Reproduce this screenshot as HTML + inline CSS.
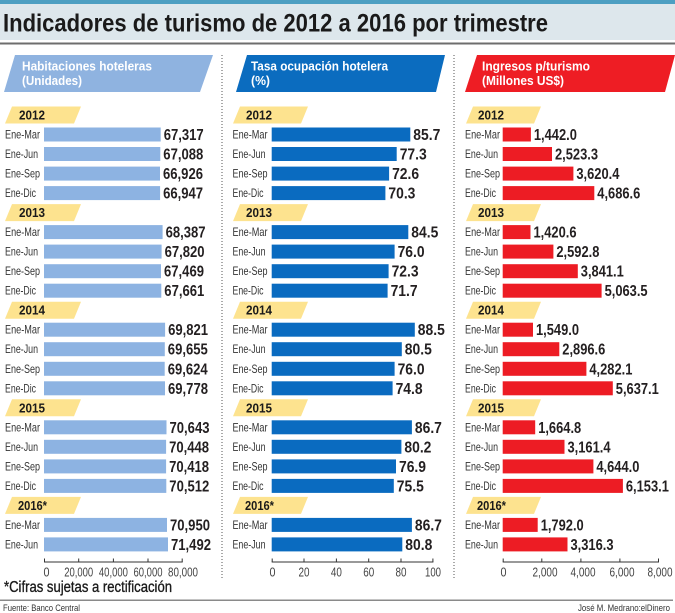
<!DOCTYPE html>
<html><head><meta charset="utf-8"><style>
html,body{margin:0;padding:0;background:#fff;}
svg{display:block;}
.t{font-family:"Liberation Sans",sans-serif;font-weight:bold;font-size:25px;fill:#1a1a1a;}
.h{font-family:"Liberation Sans",sans-serif;font-weight:bold;font-size:13px;fill:#fff;}
.y{font-family:"Liberation Sans",sans-serif;font-weight:bold;font-size:12.5px;fill:#1a1a1a;}
.l{font-family:"Liberation Sans",sans-serif;font-size:12px;fill:#333;}
.v{font-family:"Liberation Sans",sans-serif;font-weight:bold;font-size:15.5px;fill:#231f20;}
.a{font-family:"Liberation Sans",sans-serif;font-size:12.5px;fill:#444;text-anchor:middle;}
.f{font-family:"Liberation Sans",sans-serif;font-size:9.5px;fill:#333;}
.b1{fill:#8db3e2;}.b2{fill:#0a6bc0;}.b3{fill:#ed1c24;}
.tg{fill:#fde38f;}
</style></head><body>
<svg width="675" height="613" viewBox="0 0 675 613" xmlns="http://www.w3.org/2000/svg">
<rect x="0" y="0" width="675" height="4" fill="#4d9fc2"/>
<rect x="0" y="4" width="675" height="36" fill="#dde7ec"/>
<rect x="0" y="42.5" width="675" height="2" fill="#6d6d6d"/>
<text class="t" x="3" y="31.5" textLength="545" lengthAdjust="spacingAndGlyphs">Indicadores de turismo de 2012 a 2016 por trimestre</text>

<polygon points="15,55 213,55 200,92 4,92" fill="#8fb3e0"/>
<polygon points="247,55 445,55 436,92 236,92" fill="#0b6cbf"/>
<polygon points="477,55 675,55 665,92 465,92" fill="#ee1d24"/>
<text class="h" x="22" y="70.7" textLength="130" lengthAdjust="spacingAndGlyphs">Habitaciones hoteleras</text>
<text class="h" x="22" y="85" textLength="60" lengthAdjust="spacingAndGlyphs">(Unidades)</text>
<text class="h" x="251" y="70.7" textLength="137" lengthAdjust="spacingAndGlyphs">Tasa ocupación hotelera</text>
<text class="h" x="251" y="85" textLength="19" lengthAdjust="spacingAndGlyphs">(%)</text>
<text class="h" x="482" y="70.7" textLength="108" lengthAdjust="spacingAndGlyphs">Ingresos p/turismo</text>
<text class="h" x="482" y="85" textLength="82" lengthAdjust="spacingAndGlyphs">(Millones US$)</text>

<line x1="222" y1="55" x2="222" y2="578" stroke="#555" stroke-width="1" stroke-dasharray="1,2"/>
<line x1="454" y1="55" x2="454" y2="578" stroke="#555" stroke-width="1" stroke-dasharray="1,2"/>

<!-- year tags -->
<g transform="translate(0,115)">
<polygon class="tg" points="12,-8.5 81,-8.5 74,8.5 5,8.5"/><text class="y" x="19" y="4.5" textLength="26" lengthAdjust="spacingAndGlyphs">2012</text>
<polygon class="tg" points="240,-8.5 308,-8.5 301,8.5 233,8.5"/><text class="y" x="246" y="4.5" textLength="26" lengthAdjust="spacingAndGlyphs">2012</text>
<polygon class="tg" points="473,-8.5 541,-8.5 534,8.5 466,8.5"/><text class="y" x="478" y="4.5" textLength="26" lengthAdjust="spacingAndGlyphs">2012</text>
</g>
<g transform="translate(0,212.6)">
<polygon class="tg" points="12,-8.5 81,-8.5 74,8.5 5,8.5"/><text class="y" x="19" y="4.5" textLength="26" lengthAdjust="spacingAndGlyphs">2013</text>
<polygon class="tg" points="240,-8.5 308,-8.5 301,8.5 233,8.5"/><text class="y" x="246" y="4.5" textLength="26" lengthAdjust="spacingAndGlyphs">2013</text>
<polygon class="tg" points="473,-8.5 541,-8.5 534,8.5 466,8.5"/><text class="y" x="478" y="4.5" textLength="26" lengthAdjust="spacingAndGlyphs">2013</text>
</g>
<g transform="translate(0,310.2)">
<polygon class="tg" points="12,-8.5 81,-8.5 74,8.5 5,8.5"/><text class="y" x="19" y="4.5" textLength="26" lengthAdjust="spacingAndGlyphs">2014</text>
<polygon class="tg" points="240,-8.5 308,-8.5 301,8.5 233,8.5"/><text class="y" x="246" y="4.5" textLength="26" lengthAdjust="spacingAndGlyphs">2014</text>
<polygon class="tg" points="473,-8.5 541,-8.5 534,8.5 466,8.5"/><text class="y" x="478" y="4.5" textLength="26" lengthAdjust="spacingAndGlyphs">2014</text>
</g>
<g transform="translate(0,407.8)">
<polygon class="tg" points="12,-8.5 81,-8.5 74,8.5 5,8.5"/><text class="y" x="19" y="4.5" textLength="26" lengthAdjust="spacingAndGlyphs">2015</text>
<polygon class="tg" points="240,-8.5 308,-8.5 301,8.5 233,8.5"/><text class="y" x="246" y="4.5" textLength="26" lengthAdjust="spacingAndGlyphs">2015</text>
<polygon class="tg" points="473,-8.5 541,-8.5 534,8.5 466,8.5"/><text class="y" x="478" y="4.5" textLength="26" lengthAdjust="spacingAndGlyphs">2015</text>
</g>
<g transform="translate(0,505.4)">
<polygon class="tg" points="12,-8.5 81,-8.5 74,8.5 5,8.5"/><text class="y" x="18" y="4.5" textLength="29" lengthAdjust="spacingAndGlyphs">2016*</text>
<polygon class="tg" points="240,-8.5 308,-8.5 301,8.5 233,8.5"/><text class="y" x="245" y="4.5" textLength="29" lengthAdjust="spacingAndGlyphs">2016*</text>
<polygon class="tg" points="473,-8.5 541,-8.5 534,8.5 466,8.5"/><text class="y" x="477" y="4.5" textLength="29" lengthAdjust="spacingAndGlyphs">2016*</text>
</g>

<!-- 2012 -->
<g transform="translate(0,134.5)">
<text class="l" x="5" y="4" textLength="35" lengthAdjust="spacingAndGlyphs">Ene-Mar</text><rect class="b1" x="44" y="-7" width="116.7" height="14"/><text class="v" x="163.7" y="5.5" textLength="40" lengthAdjust="spacingAndGlyphs">67,317</text>
<text class="l" x="232.5" y="4" textLength="35" lengthAdjust="spacingAndGlyphs">Ene-Mar</text><rect class="b2" x="271.7" y="-7" width="138.6" height="14"/><text class="v" x="413.3" y="5.5" textLength="27" lengthAdjust="spacingAndGlyphs">85.7</text>
<text class="l" x="465" y="4" textLength="35" lengthAdjust="spacingAndGlyphs">Ene-Mar</text><rect class="b3" x="502.7" y="-7" width="28.2" height="14"/><text class="v" x="533.9" y="5.5" textLength="43" lengthAdjust="spacingAndGlyphs">1,442.0</text>
</g>
<g transform="translate(0,154)">
<text class="l" x="5" y="4" textLength="33" lengthAdjust="spacingAndGlyphs">Ene-Jun</text><rect class="b1" x="44" y="-7" width="116.3" height="14"/><text class="v" x="163.3" y="5.5" textLength="40" lengthAdjust="spacingAndGlyphs">67,088</text>
<text class="l" x="232.5" y="4" textLength="33" lengthAdjust="spacingAndGlyphs">Ene-Jun</text><rect class="b2" x="271.7" y="-7" width="125" height="14"/><text class="v" x="399.7" y="5.5" textLength="27" lengthAdjust="spacingAndGlyphs">77.3</text>
<text class="l" x="465" y="4" textLength="33" lengthAdjust="spacingAndGlyphs">Ene-Jun</text><rect class="b3" x="502.7" y="-7" width="49.3" height="14"/><text class="v" x="555" y="5.5" textLength="43" lengthAdjust="spacingAndGlyphs">2,523.3</text>
</g>
<g transform="translate(0,173.6)">
<text class="l" x="5" y="4" textLength="35" lengthAdjust="spacingAndGlyphs">Ene-Sep</text><rect class="b1" x="44" y="-7" width="116" height="14"/><text class="v" x="163" y="5.5" textLength="40" lengthAdjust="spacingAndGlyphs">66,926</text>
<text class="l" x="232.5" y="4" textLength="35" lengthAdjust="spacingAndGlyphs">Ene-Sep</text><rect class="b2" x="271.7" y="-7" width="117.4" height="14"/><text class="v" x="392.1" y="5.5" textLength="27" lengthAdjust="spacingAndGlyphs">72.6</text>
<text class="l" x="465" y="4" textLength="35" lengthAdjust="spacingAndGlyphs">Ene-Sep</text><rect class="b3" x="502.7" y="-7" width="70.7" height="14"/><text class="v" x="576.4" y="5.5" textLength="43" lengthAdjust="spacingAndGlyphs">3,620.4</text>
</g>
<g transform="translate(0,193.1)">
<text class="l" x="5" y="4" textLength="31" lengthAdjust="spacingAndGlyphs">Ene-Dic</text><rect class="b1" x="44" y="-7" width="116.1" height="14"/><text class="v" x="163.1" y="5.5" textLength="40" lengthAdjust="spacingAndGlyphs">66,947</text>
<text class="l" x="232.5" y="4" textLength="31" lengthAdjust="spacingAndGlyphs">Ene-Dic</text><rect class="b2" x="271.7" y="-7" width="113.7" height="14"/><text class="v" x="388.4" y="5.5" textLength="27" lengthAdjust="spacingAndGlyphs">70.3</text>
<text class="l" x="465" y="4" textLength="31" lengthAdjust="spacingAndGlyphs">Ene-Dic</text><rect class="b3" x="502.7" y="-7" width="91.6" height="14"/><text class="v" x="597.3" y="5.5" textLength="43" lengthAdjust="spacingAndGlyphs">4,686.6</text>
</g>

<!-- 2013 -->
<g transform="translate(0,232.1)">
<text class="l" x="5" y="4" textLength="35" lengthAdjust="spacingAndGlyphs">Ene-Mar</text><rect class="b1" x="44" y="-7" width="118.6" height="14"/><text class="v" x="165.6" y="5.5" textLength="40" lengthAdjust="spacingAndGlyphs">68,387</text>
<text class="l" x="232.5" y="4" textLength="35" lengthAdjust="spacingAndGlyphs">Ene-Mar</text><rect class="b2" x="271.7" y="-7" width="136.6" height="14"/><text class="v" x="411.3" y="5.5" textLength="27" lengthAdjust="spacingAndGlyphs">84.5</text>
<text class="l" x="465" y="4" textLength="35" lengthAdjust="spacingAndGlyphs">Ene-Mar</text><rect class="b3" x="502.7" y="-7" width="27.8" height="14"/><text class="v" x="533.5" y="5.5" textLength="43" lengthAdjust="spacingAndGlyphs">1,420.6</text>
</g>
<g transform="translate(0,251.6)">
<text class="l" x="5" y="4" textLength="33" lengthAdjust="spacingAndGlyphs">Ene-Jun</text><rect class="b1" x="44" y="-7" width="117.6" height="14"/><text class="v" x="164.6" y="5.5" textLength="40" lengthAdjust="spacingAndGlyphs">67,820</text>
<text class="l" x="232.5" y="4" textLength="33" lengthAdjust="spacingAndGlyphs">Ene-Jun</text><rect class="b2" x="271.7" y="-7" width="122.9" height="14"/><text class="v" x="397.6" y="5.5" textLength="27" lengthAdjust="spacingAndGlyphs">76.0</text>
<text class="l" x="465" y="4" textLength="33" lengthAdjust="spacingAndGlyphs">Ene-Jun</text><rect class="b3" x="502.7" y="-7" width="50.7" height="14"/><text class="v" x="556.4" y="5.5" textLength="43" lengthAdjust="spacingAndGlyphs">2,592.8</text>
</g>
<g transform="translate(0,271.2)">
<text class="l" x="5" y="4" textLength="35" lengthAdjust="spacingAndGlyphs">Ene-Sep</text><rect class="b1" x="44" y="-7" width="117" height="14"/><text class="v" x="164" y="5.5" textLength="40" lengthAdjust="spacingAndGlyphs">67,469</text>
<text class="l" x="232.5" y="4" textLength="35" lengthAdjust="spacingAndGlyphs">Ene-Sep</text><rect class="b2" x="271.7" y="-7" width="116.9" height="14"/><text class="v" x="391.6" y="5.5" textLength="27" lengthAdjust="spacingAndGlyphs">72.3</text>
<text class="l" x="465" y="4" textLength="35" lengthAdjust="spacingAndGlyphs">Ene-Sep</text><rect class="b3" x="502.7" y="-7" width="75.1" height="14"/><text class="v" x="580.8" y="5.5" textLength="43" lengthAdjust="spacingAndGlyphs">3,841.1</text>
</g>
<g transform="translate(0,290.7)">
<text class="l" x="5" y="4" textLength="31" lengthAdjust="spacingAndGlyphs">Ene-Dic</text><rect class="b1" x="44" y="-7" width="117.3" height="14"/><text class="v" x="164.3" y="5.5" textLength="40" lengthAdjust="spacingAndGlyphs">67,661</text>
<text class="l" x="232.5" y="4" textLength="31" lengthAdjust="spacingAndGlyphs">Ene-Dic</text><rect class="b2" x="271.7" y="-7" width="115.9" height="14"/><text class="v" x="390.6" y="5.5" textLength="27" lengthAdjust="spacingAndGlyphs">71.7</text>
<text class="l" x="465" y="4" textLength="31" lengthAdjust="spacingAndGlyphs">Ene-Dic</text><rect class="b3" x="502.7" y="-7" width="98.9" height="14"/><text class="v" x="604.6" y="5.5" textLength="43" lengthAdjust="spacingAndGlyphs">5,063.5</text>
</g>

<!-- 2014 -->
<g transform="translate(0,329.7)">
<text class="l" x="5" y="4" textLength="35" lengthAdjust="spacingAndGlyphs">Ene-Mar</text><rect class="b1" x="44" y="-7" width="121.1" height="14"/><text class="v" x="168.1" y="5.5" textLength="40" lengthAdjust="spacingAndGlyphs">69,821</text>
<text class="l" x="232.5" y="4" textLength="35" lengthAdjust="spacingAndGlyphs">Ene-Mar</text><rect class="b2" x="271.7" y="-7" width="143.1" height="14"/><text class="v" x="417.8" y="5.5" textLength="27" lengthAdjust="spacingAndGlyphs">88.5</text>
<text class="l" x="465" y="4" textLength="35" lengthAdjust="spacingAndGlyphs">Ene-Mar</text><rect class="b3" x="502.7" y="-7" width="30.3" height="14"/><text class="v" x="536" y="5.5" textLength="43" lengthAdjust="spacingAndGlyphs">1,549.0</text>
</g>
<g transform="translate(0,349.2)">
<text class="l" x="5" y="4" textLength="33" lengthAdjust="spacingAndGlyphs">Ene-Jun</text><rect class="b1" x="44" y="-7" width="120.8" height="14"/><text class="v" x="167.8" y="5.5" textLength="40" lengthAdjust="spacingAndGlyphs">69,655</text>
<text class="l" x="232.5" y="4" textLength="33" lengthAdjust="spacingAndGlyphs">Ene-Jun</text><rect class="b2" x="271.7" y="-7" width="130.1" height="14"/><text class="v" x="404.8" y="5.5" textLength="27" lengthAdjust="spacingAndGlyphs">80.5</text>
<text class="l" x="465" y="4" textLength="33" lengthAdjust="spacingAndGlyphs">Ene-Jun</text><rect class="b3" x="502.7" y="-7" width="56.6" height="14"/><text class="v" x="562.3" y="5.5" textLength="43" lengthAdjust="spacingAndGlyphs">2,896.6</text>
</g>
<g transform="translate(0,368.8)">
<text class="l" x="5" y="4" textLength="35" lengthAdjust="spacingAndGlyphs">Ene-Sep</text><rect class="b1" x="44" y="-7" width="120.7" height="14"/><text class="v" x="167.7" y="5.5" textLength="40" lengthAdjust="spacingAndGlyphs">69,624</text>
<text class="l" x="232.5" y="4" textLength="35" lengthAdjust="spacingAndGlyphs">Ene-Sep</text><rect class="b2" x="271.7" y="-7" width="122.9" height="14"/><text class="v" x="397.6" y="5.5" textLength="27" lengthAdjust="spacingAndGlyphs">76.0</text>
<text class="l" x="465" y="4" textLength="35" lengthAdjust="spacingAndGlyphs">Ene-Sep</text><rect class="b3" x="502.7" y="-7" width="83.7" height="14"/><text class="v" x="589.4" y="5.5" textLength="43" lengthAdjust="spacingAndGlyphs">4,282.1</text>
</g>
<g transform="translate(0,388.3)">
<text class="l" x="5" y="4" textLength="31" lengthAdjust="spacingAndGlyphs">Ene-Dic</text><rect class="b1" x="44" y="-7" width="121" height="14"/><text class="v" x="168" y="5.5" textLength="40" lengthAdjust="spacingAndGlyphs">69,778</text>
<text class="l" x="232.5" y="4" textLength="31" lengthAdjust="spacingAndGlyphs">Ene-Dic</text><rect class="b2" x="271.7" y="-7" width="120.9" height="14"/><text class="v" x="395.6" y="5.5" textLength="27" lengthAdjust="spacingAndGlyphs">74.8</text>
<text class="l" x="465" y="4" textLength="31" lengthAdjust="spacingAndGlyphs">Ene-Dic</text><rect class="b3" x="502.7" y="-7" width="110.1" height="14"/><text class="v" x="615.8" y="5.5" textLength="43" lengthAdjust="spacingAndGlyphs">5,637.1</text>
</g>

<!-- 2015 -->
<g transform="translate(0,427.3)">
<text class="l" x="5" y="4" textLength="35" lengthAdjust="spacingAndGlyphs">Ene-Mar</text><rect class="b1" x="44" y="-7" width="122.5" height="14"/><text class="v" x="169.5" y="5.5" textLength="40" lengthAdjust="spacingAndGlyphs">70,643</text>
<text class="l" x="232.5" y="4" textLength="35" lengthAdjust="spacingAndGlyphs">Ene-Mar</text><rect class="b2" x="271.7" y="-7" width="140.2" height="14"/><text class="v" x="414.9" y="5.5" textLength="27" lengthAdjust="spacingAndGlyphs">86.7</text>
<text class="l" x="465" y="4" textLength="35" lengthAdjust="spacingAndGlyphs">Ene-Mar</text><rect class="b3" x="502.7" y="-7" width="32.5" height="14"/><text class="v" x="538.2" y="5.5" textLength="43" lengthAdjust="spacingAndGlyphs">1,664.8</text>
</g>
<g transform="translate(0,446.8)">
<text class="l" x="5" y="4" textLength="33" lengthAdjust="spacingAndGlyphs">Ene-Jun</text><rect class="b1" x="44" y="-7" width="122.1" height="14"/><text class="v" x="169.1" y="5.5" textLength="40" lengthAdjust="spacingAndGlyphs">70,448</text>
<text class="l" x="232.5" y="4" textLength="33" lengthAdjust="spacingAndGlyphs">Ene-Jun</text><rect class="b2" x="271.7" y="-7" width="129.7" height="14"/><text class="v" x="404.4" y="5.5" textLength="27" lengthAdjust="spacingAndGlyphs">80.2</text>
<text class="l" x="465" y="4" textLength="33" lengthAdjust="spacingAndGlyphs">Ene-Jun</text><rect class="b3" x="502.7" y="-7" width="61.8" height="14"/><text class="v" x="567.5" y="5.5" textLength="43" lengthAdjust="spacingAndGlyphs">3,161.4</text>
</g>
<g transform="translate(0,466.4)">
<text class="l" x="5" y="4" textLength="35" lengthAdjust="spacingAndGlyphs">Ene-Sep</text><rect class="b1" x="44" y="-7" width="122.1" height="14"/><text class="v" x="169.1" y="5.5" textLength="40" lengthAdjust="spacingAndGlyphs">70,418</text>
<text class="l" x="232.5" y="4" textLength="35" lengthAdjust="spacingAndGlyphs">Ene-Sep</text><rect class="b2" x="271.7" y="-7" width="124.3" height="14"/><text class="v" x="399" y="5.5" textLength="27" lengthAdjust="spacingAndGlyphs">76.9</text>
<text class="l" x="465" y="4" textLength="35" lengthAdjust="spacingAndGlyphs">Ene-Sep</text><rect class="b3" x="502.7" y="-7" width="90.7" height="14"/><text class="v" x="596.4" y="5.5" textLength="43" lengthAdjust="spacingAndGlyphs">4,644.0</text>
</g>
<g transform="translate(0,485.9)">
<text class="l" x="5" y="4" textLength="31" lengthAdjust="spacingAndGlyphs">Ene-Dic</text><rect class="b1" x="44" y="-7" width="122.3" height="14"/><text class="v" x="169.3" y="5.5" textLength="40" lengthAdjust="spacingAndGlyphs">70,512</text>
<text class="l" x="232.5" y="4" textLength="31" lengthAdjust="spacingAndGlyphs">Ene-Dic</text><rect class="b2" x="271.7" y="-7" width="122.1" height="14"/><text class="v" x="396.8" y="5.5" textLength="27" lengthAdjust="spacingAndGlyphs">75.5</text>
<text class="l" x="465" y="4" textLength="31" lengthAdjust="spacingAndGlyphs">Ene-Dic</text><rect class="b3" x="502.7" y="-7" width="120.2" height="14"/><text class="v" x="625.9" y="5.5" textLength="43" lengthAdjust="spacingAndGlyphs">6,153.1</text>
</g>

<!-- 2016 -->
<g transform="translate(0,524.9)">
<text class="l" x="5" y="4" textLength="35" lengthAdjust="spacingAndGlyphs">Ene-Mar</text><rect class="b1" x="44" y="-7" width="123" height="14"/><text class="v" x="170" y="5.5" textLength="40" lengthAdjust="spacingAndGlyphs">70,950</text>
<text class="l" x="232.5" y="4" textLength="35" lengthAdjust="spacingAndGlyphs">Ene-Mar</text><rect class="b2" x="271.7" y="-7" width="140.2" height="14"/><text class="v" x="414.9" y="5.5" textLength="27" lengthAdjust="spacingAndGlyphs">86.7</text>
<text class="l" x="465" y="4" textLength="35" lengthAdjust="spacingAndGlyphs">Ene-Mar</text><rect class="b3" x="502.7" y="-7" width="35" height="14"/><text class="v" x="540.7" y="5.5" textLength="43" lengthAdjust="spacingAndGlyphs">1,792.0</text>
</g>
<g transform="translate(0,544.4)">
<text class="l" x="5" y="4" textLength="33" lengthAdjust="spacingAndGlyphs">Ene-Jun</text><rect class="b1" x="44" y="-7" width="124" height="14"/><text class="v" x="171" y="5.5" textLength="40" lengthAdjust="spacingAndGlyphs">71,492</text>
<text class="l" x="232.5" y="4" textLength="33" lengthAdjust="spacingAndGlyphs">Ene-Jun</text><rect class="b2" x="271.7" y="-7" width="130.6" height="14"/><text class="v" x="405.3" y="5.5" textLength="27" lengthAdjust="spacingAndGlyphs">80.8</text>
<text class="l" x="465" y="4" textLength="33" lengthAdjust="spacingAndGlyphs">Ene-Jun</text><rect class="b3" x="502.7" y="-7" width="64.8" height="14"/><text class="v" x="570.5" y="5.5" textLength="43" lengthAdjust="spacingAndGlyphs">3,316.3</text>
</g>

<!-- axes -->
<g stroke="#333" stroke-width="1" fill="none">
<line x1="44" y1="562" x2="182.7" y2="562"/>
<path d="M44.5 558.5V562M78.7 558.5V562M113.4 558.5V562M148 558.5V562M182.2 558.5V562"/>
<line x1="271.7" y1="562" x2="433.4" y2="562"/>
<path d="M272.2 558.5V562M304 558.5V562M336.4 558.5V562M368.7 558.5V562M401 558.5V562M432.9 558.5V562"/>
<line x1="502.7" y1="562" x2="659" y2="562"/>
<path d="M503.2 558.5V562M541.8 558.5V562M580.9 558.5V562M619.9 558.5V562M658.5 558.5V562"/>
</g>
<text class="a" x="46.5" y="576.5" textLength="6" lengthAdjust="spacingAndGlyphs">0</text>
<text class="a" x="78.7" y="576.5" textLength="29" lengthAdjust="spacingAndGlyphs">20,000</text>
<text class="a" x="113.4" y="576.5" textLength="29" lengthAdjust="spacingAndGlyphs">40,000</text>
<text class="a" x="148" y="576.5" textLength="29" lengthAdjust="spacingAndGlyphs">60,000</text>
<text class="a" x="183" y="576.5" textLength="30" lengthAdjust="spacingAndGlyphs">80,000</text>
<text class="a" x="272.5" y="576.5" textLength="6" lengthAdjust="spacingAndGlyphs">0</text>
<text class="a" x="304" y="576.5" textLength="11" lengthAdjust="spacingAndGlyphs">20</text>
<text class="a" x="336.4" y="576.5" textLength="11" lengthAdjust="spacingAndGlyphs">40</text>
<text class="a" x="368.7" y="576.5" textLength="11" lengthAdjust="spacingAndGlyphs">60</text>
<text class="a" x="401" y="576.5" textLength="11" lengthAdjust="spacingAndGlyphs">80</text>
<text class="a" x="433" y="576.5" textLength="16" lengthAdjust="spacingAndGlyphs">100</text>
<text class="a" x="503.5" y="576.5" textLength="6" lengthAdjust="spacingAndGlyphs">0</text>
<text class="a" x="545" y="576.5" textLength="25" lengthAdjust="spacingAndGlyphs">2,000</text>
<text class="a" x="583" y="576.5" textLength="25" lengthAdjust="spacingAndGlyphs">4,000</text>
<text class="a" x="622" y="576.5" textLength="25" lengthAdjust="spacingAndGlyphs">6,000</text>
<text class="a" x="660" y="576.5" textLength="25" lengthAdjust="spacingAndGlyphs">8,000</text>

<!-- footer -->
<text x="4" y="592" font-family="'Liberation Sans',sans-serif" font-size="15.5" fill="#1a1a1a" stroke="#1a1a1a" stroke-width="0.35" textLength="168" lengthAdjust="spacingAndGlyphs">*Cifras sujetas a rectificación</text>
<rect x="0" y="599.5" width="673" height="1.5" fill="#8a8a8a"/>
<text class="f" x="3" y="611" textLength="77" lengthAdjust="spacingAndGlyphs">Fuente: Banco Central</text>
<text class="f" x="578" y="611" textLength="92" lengthAdjust="spacingAndGlyphs">José M. Medrano:elDinero</text>
</svg>
</body></html>
